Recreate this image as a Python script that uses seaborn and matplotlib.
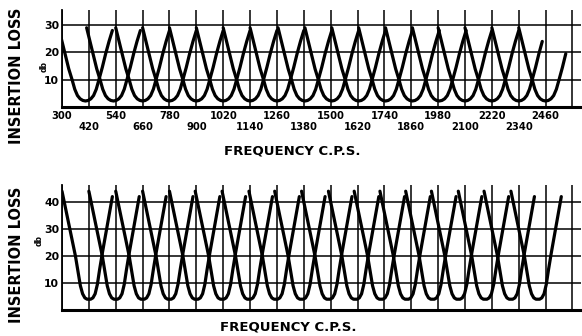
import numpy as np
import pandas as pd
import matplotlib
matplotlib.use("Agg")
import matplotlib.pyplot as plt
import seaborn as sns

# frequency grid (c.p.s.) and its labels
grid_freqs = [300, 420, 540, 660, 780, 900, 1020, 1140, 1260, 1380, 1500,
              1620, 1740, 1860, 1980, 2100, 2220, 2340, 2460, 2580]
grid_labels = ["300", "420", "540", "660", "780", "900", "1020", "1140", "1260", "1380",
               "1500", "1620", "1740", "1860", "1980", "2100", "2220", "2340", "2460", ""]

# upper chart: channel centres and the shape of one channel's loss curve
top_centers = [405, 530, 660, 780, 900, 1020, 1140, 1260, 1385, 1505,
               1625, 1745, 1865, 1985, 2100, 2220, 2340, 2460]
top_right_end = [120, 120, 120, 120, 120, 120, 120, 120, 120, 120,
                 120, 120, 120, 120, 120, 120, 112, 95]
top_offsets = [-120, -105, -90, -75, -60, -48, -36, -24, -12, 0,
               12, 24, 36, 48, 60, 75, 90, 105, 120]
top_loss = [29, 24, 19, 14, 10, 6.5, 4.2, 3.0, 2.4, 2.2,
            2.4, 3.0, 4.2, 6.5, 10, 14.5, 19.5, 24, 28]

# lower chart
bot_centers = [420, 540, 660, 780, 900, 1015, 1135, 1255, 1370, 1490,
               1610, 1725, 1840, 1955, 2070, 2190, 2305, 2425]
bot_offsets = [-120, -105, -90, -75, -60, -48, -38, -28, -18, -8, 0,
               8, 18, 28, 38, 48, 60, 75, 90, 105]
bot_loss = [44, 38, 32, 26, 20, 14, 9, 6, 4.5, 4, 4,
            4, 4.5, 6, 9.5, 15, 21, 28, 35, 42]


def build_frame(centers, offsets, loss, right_end=None):
    rows = []
    for i, c in enumerate(centers):
        for o, l in zip(offsets, loss):
            if right_end is not None and o > right_end[i]:
                continue
            rows.append({"channel": i, "freq": c + o, "loss": l})
    return pd.DataFrame(rows)


df_top = build_frame(top_centers, top_offsets, top_loss, top_right_end)
df_bot = build_frame(bot_centers, bot_offsets, bot_loss)

sns.set_style("white")
plt.rcParams['font.family'] = ['DejaVu Sans']
for k in ["text.color", "axes.labelcolor", "xtick.color", "ytick.color"]:
    plt.rcParams[k] = "black"

fig = plt.figure(figsize=(5.82, 3.36), dpi=100)
W, H = 582, 336
ax_top = fig.add_axes([62 / W, 1 - 107 / H, 519 / W, 97 / H])
ax_bot = fig.add_axes([62 / W, 1 - 310 / H, 519 / W, 125 / H])


def style_axes(ax, yticks, ymax):
    ax.set_xlim(300, 2618)
    ax.set_ylim(0, ymax)
    ax.set_xticks(grid_freqs)
    ax.set_yticks(yticks)
    ax.grid(True, color="black", lw=1.1)
    for s in ["top", "right"]:
        ax.spines[s].set_visible(False)
    ax.spines["left"].set_color("black")
    ax.spines["left"].set_linewidth(1.3)
    ax.spines["bottom"].set_color("black")
    ax.spines["bottom"].set_linewidth(2.2)
    ax.tick_params(length=0, pad=2)
    ax.set_yticklabels([str(t) for t in yticks], fontsize=7.8, fontweight="bold")
    ax.set_xlabel("")
    ax.set_ylabel("")


sns.lineplot(data=df_top, x="freq", y="loss", units="channel", estimator=None,
             color="black", lw=2.3, ax=ax_top, legend=False, sort=False)
sns.lineplot(data=df_bot, x="freq", y="loss", units="channel", estimator=None,
             color="black", lw=2.3, ax=ax_bot, legend=False, sort=False)

style_axes(ax_top, [10, 20, 30], 35.5)
style_axes(ax_bot, [10, 20, 30, 40], 46.3)

# staggered frequency labels on the upper chart
top_lbls = [lab if i % 2 == 0 else "\n" + lab for i, lab in enumerate(grid_labels)]
ax_top.set_xticklabels(top_lbls, fontsize=7.2, fontweight="bold", linespacing=1.15)
ax_top.tick_params(axis="x", pad=3)
ax_bot.set_xticklabels([])

for yc in [76, 255]:
    fig.text(17 / W, 1 - yc / H, "INSERTION LOSS", rotation=90, ha="center", va="center",
             fontsize=10.5, fontweight="bold")
fig.text(44 / W, 1 - 66 / H, "db", rotation=90, ha="center", va="center", fontsize=5.5,
         fontweight="bold")
fig.text(39 / W, 1 - 240 / H, "db", rotation=90, ha="center", va="center", fontsize=5.5,
         fontweight="bold")

fig.text(292 / W, 1 - 150.5 / H, "FREQUENCY C.P.S.", ha="center", va="center",
         fontsize=9.5, fontweight="bold")
fig.text(288 / W, 1 - 327 / H, "FREQUENCY C.P.S.", ha="center", va="center",
         fontsize=9.5, fontweight="bold")

fig.savefig("out.png", dpi=100)
